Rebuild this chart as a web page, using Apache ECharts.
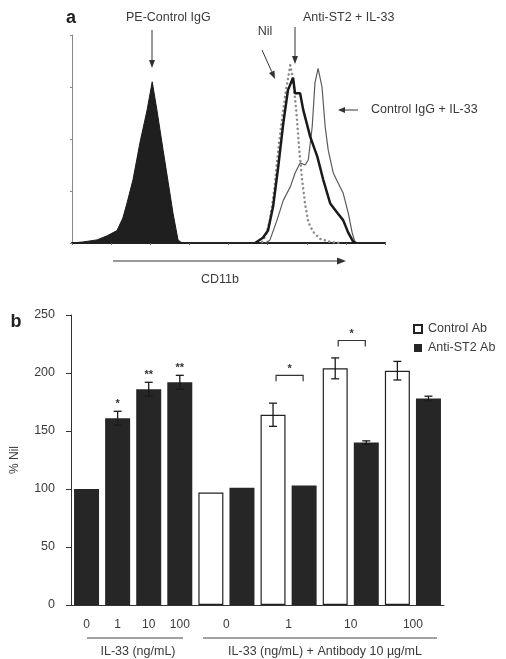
<!DOCTYPE html>
<html><head><meta charset="utf-8">
<script src="https://cdn.jsdelivr.net/npm/echarts@6/dist/echarts.min.js"></script>
<style>html,body{margin:0;padding:0;background:#fff}#c{width:506px;height:659px}</style>
</head><body><div id="c"></div>
<script>
// ---------- Panel a: CD11b histograms ([channel (log units), count]) ----------
const peControlIgG = [[0,0],[0.28,1],[0.64,3],[0.90,7],[1.15,12],[1.30,24],[1.41,39],[1.56,61],[1.74,97],[1.92,128],[2.05,155],[2.17,128],[2.33,89],[2.46,58],[2.58,29],[2.71,3],[2.81,0]];
const nilHist = [[4.86,1],[4.96,8],[5.06,22],[5.17,51],[5.27,89],[5.37,120],[5.47,147],[5.58,171],[5.65,157],[5.73,128],[5.81,89],[5.88,61],[5.96,37],[6.04,20],[6.16,11],[6.34,4],[6.60,1],[6.85,0]];
const antiST2IL33 = [[4.68,0],[4.88,5],[5.01,12],[5.14,35],[5.27,73],[5.40,115],[5.52,147],[5.65,159],[5.70,144],[5.83,144],[5.91,128],[6.09,102],[6.27,83],[6.42,61],[6.60,38],[6.78,29],[6.93,22],[7.06,10],[7.19,1],[7.26,0]];
const controlIgGIL33 = [[4.94,0],[5.06,3],[5.24,22],[5.40,41],[5.58,54],[5.70,67],[5.83,77],[5.96,75],[6.04,80],[6.14,112],[6.21,154],[6.29,168],[6.39,150],[6.47,112],[6.55,89],[6.68,67],[6.85,54],[6.93,48],[7.06,29],[7.16,10],[7.24,0]];

// ---------- Panel b: % Nil bars ----------
const slots = ['IL-33 0','IL-33 1','IL-33 10','IL-33 100','Ctrl 0','ST2 0','Ctrl 1','ST2 1','Ctrl 10','ST2 10','Ctrl 100','ST2 100'];
const doseLabels = ['0','1','10','100'];
const il33Only   = [100, 161, 186, 192, null, null, null, null, null, null, null, null];
const il33Err    = [0, 6, 6, 6];
const controlAb  = [null, null, null, null, 97, null, 164, null, 204, null, 202, null];
const controlErr = [0, 10, 9, 8];
const antiST2Ab  = [null, null, null, null, null, 101, null, 103, null, 140, null, 178];
const antiErr    = [0, 0, 1.5, 2];
const sigMarks   = ['', '*', '**', '**'];
const brackets   = [[6, 7, 198, '*'], [8, 9, 228, '*']];
const yTicks = [0, 50, 100, 150, 200, 250];

const FONT = '"Liberation Sans", Arial, Helvetica, sans-serif';
const TXT = '#3a3a3a';
const DARK = '#262626';

// error bar data [slot, value, err, mark]
const errData = [];
il33Only.forEach((v, i) => { if (v != null) errData.push([i, v, il33Err[i], sigMarks[i]]); });
controlAb.forEach((v, i) => { if (v != null) errData.push([i, v, controlErr[(i - 4) / 2], '']); });
antiST2Ab.forEach((v, i) => { if (v != null) errData.push([i, v, antiErr[(i - 5) / 2], '']); });

// second axis labels (half-slot grid, 25 positions)
const doseAxis = new Array(25).fill('');
doseLabels.forEach((d, k) => { doseAxis[2 * k + 1] = d; doseAxis[10 + 4 * k] = d; });

function arrow(x1, y1, x2, y2, hl, hw, w) {
  const dx = x2 - x1, dy = y2 - y1, L = Math.hypot(dx, dy);
  const ux = dx / L, uy = dy / L, nx = -uy, ny = ux;
  const bx = x2 - ux * hl, by = y2 - uy * hl;
  return [
    {type: 'line', shape: {x1, y1, x2: bx, y2: by}, style: {stroke: '#333', lineWidth: w || 1}},
    {type: 'polygon', shape: {points: [[x2, y2], [bx + nx * hw, by + ny * hw], [bx - nx * hw, by - ny * hw]]}, style: {fill: '#333'}}
  ];
}
function txt(x, y, s, opts) {
  return Object.assign({type: 'text', x, y, style: Object.assign({text: s, font: '12.5px ' + FONT, fill: TXT, align: 'left', verticalAlign: 'middle'}, opts || {})});
}

const graphics = [].concat(
  [txt(71, 18, 'a', {font: 'bold 18px ' + FONT, fill: '#222', align: 'center'})],
  [txt(126, 18, 'PE-Control IgG')],
  arrow(152, 30, 152, 68, 8, 3),
  [txt(265, 32, 'Nil', {align: 'center'})],
  arrow(262, 50, 275, 79, 8, 3),
  [txt(303, 18, 'Anti-ST2 + IL-33')],
  arrow(295, 27, 295, 64, 8, 3),
  [txt(371, 110, 'Control IgG + IL-33')],
  arrow(358, 110, 338, 110, 7, 3),
  arrow(113, 261, 346, 261, 9, 3.5, 1.2),
  [txt(220, 280, 'CD11b', {align: 'center'})],
  [txt(16, 322, 'b', {font: 'bold 18px ' + FONT, fill: '#222', align: 'center'})],
  [{type: 'text', x: 15, y: 460, rotation: Math.PI / 2, style: {text: '% Nil', font: '12px ' + FONT, fill: TXT, align: 'center', verticalAlign: 'middle'}}],
  [{type: 'line', shape: {x1: 87, y1: 638, x2: 183, y2: 638}, style: {stroke: '#444', lineWidth: 1}}],
  [{type: 'line', shape: {x1: 203, y1: 638, x2: 437, y2: 638}, style: {stroke: '#444', lineWidth: 1}}],
  [txt(138, 652, 'IL-33 (ng/mL)', {align: 'center'})],
  [txt(325, 652, 'IL-33 (ng/mL) + Antibody 10 \u00b5g/mL', {align: 'center'})]
);

const chart = echarts.init(document.getElementById('c'), null, {renderer: 'canvas'});
chart.setOption({
  animation: false,
  backgroundColor: '#fff',
  textStyle: {fontFamily: FONT},
  grid: [
    {left: 72, top: 35, width: 313, height: 208},
    {left: 71, top: 315, width: 373, height: 290}
  ],
  xAxis: [
    {gridIndex: 0, type: 'value', min: 0, max: 8, interval: 1,
     axisLine: {lineStyle: {color: '#222', width: 2}}, axisTick: {length: 2, lineStyle: {color: '#666'}},
     axisLabel: {show: false}, splitLine: {show: false}},
    {gridIndex: 1, type: 'category', data: slots,
     axisLine: {lineStyle: {color: '#333', width: 1}}, axisTick: {show: false}, axisLabel: {show: false}},
    {gridIndex: 1, type: 'category', data: doseAxis, boundaryGap: false, position: 'bottom',
     axisLine: {show: false}, axisTick: {show: false},
     axisLabel: {interval: 0, margin: 14, fontSize: 12, color: TXT, fontFamily: FONT}}
  ],
  yAxis: [
    {gridIndex: 0, type: 'value', min: 0, max: 200, interval: 50,
     axisLine: {show: true, lineStyle: {color: '#888', width: 1}}, axisTick: {show: true, length: 2, lineStyle: {color: '#888'}},
     axisLabel: {show: false}, splitLine: {show: false}},
    {gridIndex: 1, type: 'value', min: 0, max: 250, interval: 50,
     axisLine: {show: true, lineStyle: {color: '#333', width: 1}}, axisTick: {show: true, length: 5, lineStyle: {color: '#333'}},
     axisLabel: {margin: 16, fontSize: 12.5, color: TXT, fontFamily: FONT, formatter: v => yTicks.indexOf(v) >= 0 ? String(v) : ''},
     splitLine: {show: false}}
  ],
  legend: {
    data: ['Control Ab', 'Anti-ST2 Ab'], orient: 'vertical', left: 408, top: 317,
    itemWidth: 8, itemHeight: 8, itemGap: 5, icon: 'rect',
    textStyle: {fontSize: 12.5, color: TXT, fontFamily: FONT, lineHeight: 14, padding: [0, 0, 0, 1]}
  },
  series: [
    {name: 'PE-Control IgG', type: 'line', xAxisIndex: 0, yAxisIndex: 0, data: peControlIgG, symbol: 'none',
     lineStyle: {color: '#1a1a1a', width: 1}, areaStyle: {color: '#1f1f1f', opacity: 1}, z: 2},
    {name: 'Control IgG + IL-33', type: 'line', xAxisIndex: 0, yAxisIndex: 0, data: controlIgGIL33, symbol: 'none',
     lineStyle: {color: '#5a5a5a', width: 1.2}, z: 3},
    {name: 'Nil', type: 'line', xAxisIndex: 0, yAxisIndex: 0, data: nilHist, symbol: 'none',
     lineStyle: {color: '#8a8a8a', width: 2.5, type: [0.1, 4.5], cap: 'round'}, z: 4},
    {name: 'Anti-ST2 + IL-33', type: 'line', xAxisIndex: 0, yAxisIndex: 0, data: antiST2IL33, symbol: 'none',
     lineStyle: {color: '#1a1a1a', width: 2.5}, z: 5},

    {name: 'IL-33', type: 'bar', xAxisIndex: 1, yAxisIndex: 1, data: il33Only, barWidth: 25, barGap: '-100%',
     itemStyle: {color: DARK}},
    {name: 'Control Ab', type: 'bar', xAxisIndex: 1, yAxisIndex: 1, data: controlAb, barWidth: 25, barGap: '-100%',
     itemStyle: {color: '#fff', borderColor: '#222', borderWidth: 1.2}},
    {name: 'Anti-ST2 Ab', type: 'bar', xAxisIndex: 1, yAxisIndex: 1, data: antiST2Ab, barWidth: 25, barGap: '-100%',
     itemStyle: {color: DARK}},
    {name: 'err', type: 'custom', xAxisIndex: 1, yAxisIndex: 1, data: errData, encode: {x: 0, y: 1}, z: 10,
     renderItem: function (params, api) {
       const i = api.value(0), v = api.value(1), e = api.value(2), mark = errData[params.dataIndex][3];
       const top = api.coord([i, v + e]), bot = api.coord([i, v - e]);
       const ch = [];
       if (e > 0) {
         const s = {stroke: '#1a1a1a', lineWidth: 1.3};
         ch.push({type: 'line', shape: {x1: top[0], y1: top[1], x2: bot[0], y2: bot[1]}, style: s});
         ch.push({type: 'line', shape: {x1: top[0] - 4, y1: top[1], x2: top[0] + 4, y2: top[1]}, style: s});
         ch.push({type: 'line', shape: {x1: bot[0] - 4, y1: bot[1], x2: bot[0] + 4, y2: bot[1]}, style: s});
       }
       if (mark) {
         ch.push({type: 'text', x: top[0], y: top[1] - 2, style: {text: mark, font: 'bold 11px ' + FONT, fill: '#333', align: 'center', verticalAlign: 'bottom'}});
       }
       return {type: 'group', children: ch};
     }},
    {name: 'sig', type: 'custom', xAxisIndex: 1, yAxisIndex: 1, data: brackets, encode: {x: [0, 1], y: 2}, z: 10,
     renderItem: function (params, api) {
       const a = api.coord([api.value(0), api.value(2)]), b = api.coord([api.value(1), api.value(2)]);
       const x1 = a[0] + 3, x2 = b[0] - 1, y = a[1];
       return {type: 'group', children: [
         {type: 'polyline', shape: {points: [[x1, y + 6], [x1, y], [x2, y], [x2, y + 6]]}, style: {stroke: '#333', lineWidth: 1.2, fill: null}},
         {type: 'text', x: (x1 + x2) / 2, y: y - 1, style: {text: brackets[params.dataIndex][3], font: 'bold 11px ' + FONT, fill: '#333', align: 'center', verticalAlign: 'bottom'}}
       ]};
     }}
  ],
  graphic: graphics
});
</script></body></html>
